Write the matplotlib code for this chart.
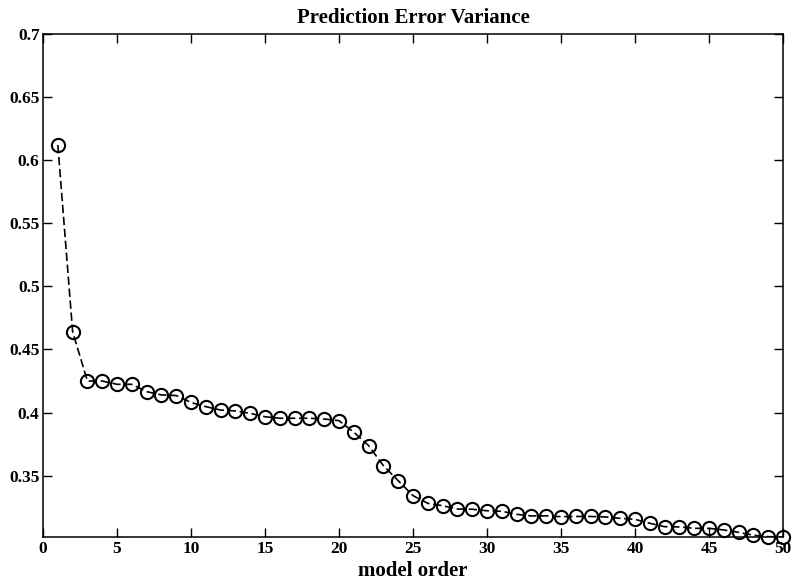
import numpy as np
import matplotlib
matplotlib.use('Agg')
import matplotlib.pyplot as plt

# model orders and prediction error variance
orders = np.arange(1, 51)
variance = [0.612, 0.464, 0.425, 0.425, 0.4224, 0.4224, 0.4166, 0.414, 0.4135, 0.408,
            0.4047, 0.402, 0.4013, 0.3994, 0.3967, 0.3955, 0.3955, 0.3955, 0.3949, 0.3936,
            0.3844, 0.3738, 0.3579, 0.346, 0.3342, 0.3281, 0.3262, 0.3236, 0.3234, 0.3222,
            0.3218, 0.3194, 0.3181, 0.3182, 0.3175, 0.3177, 0.3177, 0.3173, 0.3162, 0.3154,
            0.3123, 0.3096, 0.3094, 0.3083, 0.3083, 0.307, 0.3051, 0.3028, 0.3017, 0.3014]

x_ticks = [0, 5, 10, 15, 20, 25, 30, 35, 40, 45, 50]
y_ticks = [0.35, 0.4, 0.45, 0.5, 0.55, 0.6, 0.65, 0.7]
y_tick_labels = ['0.35', '0.4', '0.45', '0.5', '0.55', '0.6', '0.65', '0.7']

plt.rcParams['font.family'] = 'Liberation Serif'
plt.rcParams['font.weight'] = 'bold'

fig = plt.figure(figsize=(7.94, 5.85), dpi=100)
ax = fig.add_axes([0.0542, 0.082, 0.9320, 0.860])

# dashed line first, then open circles on top
ax.plot(orders, variance, 'k--', linewidth=1.2, dashes=(5, 2.2))
ax.plot(orders, variance, 'o', markersize=9.5, markerfacecolor='none',
        markeredgecolor='k', markeredgewidth=1.5, clip_on=False)

ax.set_xlim(0, 50)
ax.set_ylim(min(variance), 0.7)
ax.set_xticks(x_ticks)
ax.set_yticks(y_ticks)
ax.set_yticklabels(y_tick_labels)
ax.tick_params(direction='in', top=True, right=True, length=6.5, width=1,
               labelsize=12.5, pad=2.5)
for s in ax.spines.values():
    s.set_linewidth(1.1)

ax.set_title('Prediction Error Variance', fontsize=15, fontweight='bold', pad=8)
ax.set_xlabel('model order', fontsize=15, fontweight='bold', labelpad=3)

fig.savefig('out.png', dpi=100)
